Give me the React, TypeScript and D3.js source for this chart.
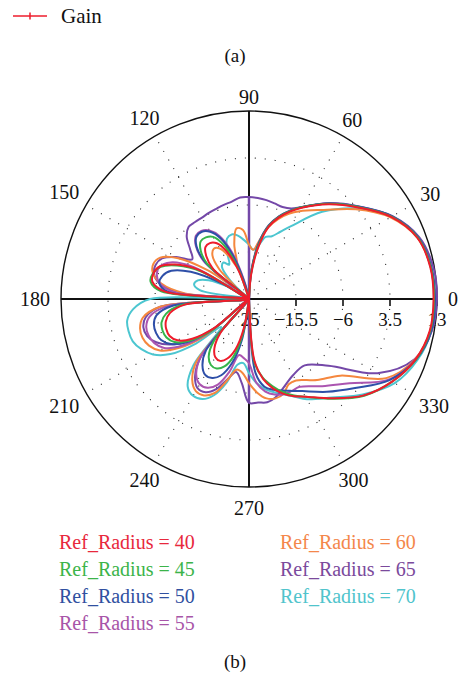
import React from "react";
import * as d3 from "d3";

// Polar angles (degrees, counter-clockwise from 0 = east)
const ANGLES = [0, 10, 20, 30, 40, 50, 60, 65, 70, 75, 80, 85, 90, 95, 100, 105, 110, 115, 120, 125, 130, 135, 140, 145, 150, 155, 160, 165, 170, 175, 180, 185, 190, 195, 200, 205, 210, 215, 220, 225, 230, 235, 240, 245, 250, 255, 260, 265, 270, 275, 280, 285, 290, 295, 300, 310, 320, 330, 340, 350];

// Gain (dB) per angle for each Ref_Radius
const GAIN_40 = [12.3, 12.2, 11.2, 8.2, 3.8, 0.0, -3.7, -5.5, -7.5, -10, -14.5, -20, -25, -25, -25, -25, -19, -14.5, -12, -11.2, -11.3, -12.8, -15.5, -25, -13, -8.5, -5.8, -5, -5.2, -8, -25, -12, -8.8, -7.6, -7.2, -7.3, -8.3, -11, -16, -25, -16, -12.8, -11.4, -11.2, -12.2, -14.5, -19, -25, -25, -12.5, -8.6, -6.3, -4.6, -3.3, -2.2, 1.2, 5.3, 8.4, 10.8, 12.1];
const GAIN_45 = [12.4, 12.3, 11.3, 8.3, 3.9, 0.1, -3.6, -5.4, -7.3, -9.8, -14, -19.5, -25, -25, -25, -25, -18, -13, -10.5, -9.8, -9.8, -11.2, -14, -25, -14, -9, -6, -4.9, -4.8, -7.2, -25, -11.5, -8, -6.7, -6.4, -6.6, -7.6, -10.3, -15, -25, -14, -10.8, -9.6, -9.5, -10.5, -13, -18, -25, -25, -12, -8.8, -6.8, -5, -3.5, -2.2, 1.3, 5.4, 8.4, 10.9, 12.2];
const GAIN_50 = [12.6, 12.4, 11.4, 8.4, 4.0, 0.2, -3.5, -5.3, -7.2, -9.6, -13.5, -19, -25, -25, -25, -22, -16, -11.5, -9.3, -8.4, -8.5, -10, -13.5, -25, -19, -12, -8.3, -6.9, -6.6, -8.6, -25, -9.5, -6, -5.1, -5, -5.4, -6.8, -9.8, -15.5, -25, -11.5, -8.6, -7.3, -7.4, -8.6, -11.5, -16.5, -25, -25, -10, -7, -6, -5.3, -4.5, -3.5, -0.5, 3.0, 7.8, 10.9, 12.4];
const GAIN_55 = [12.5, 12.4, 11.4, 8.3, 4.0, 0.2, -3.6, -5.3, -7.2, -9.6, -13.5, -19, -25, -25, -25, -21, -15, -11, -9, -8.2, -8.3, -9.8, -13, -21, -12, -7.5, -5.8, -5.7, -6.7, -10, -25, -8.5, -4.6, -3.5, -3.4, -3.9, -5.2, -8.6, -14.5, -25, -10, -6.4, -5.1, -5.2, -6.6, -9.8, -13.5, -13, -12, -8, -6, -5, -4.5, -4.5, -4.5, -2.0, 1.5, 7.6, 10.8, 12.4];
const GAIN_60 = [12.5, 12.3, 11.2, 8.0, 3.2, -1.5, -4.5, -6, -7.8, -10, -13, -15, -14, -11, -10.5, -13.5, -18, -15.5, -13.2, -12.6, -13.5, -16.5, -22, -15, -8.5, -5.2, -4.4, -4.9, -7, -12, -25, -7, -3.2, -2.2, -2.1, -2.7, -4.2, -7.8, -13.5, -25, -8.5, -5, -3.5, -3.5, -4.8, -8, -10.5, -10, -8, -6, -4.6, -4.2, -4.6, -6, -6, -3.6, -0.9, 7.0, 10.7, 12.2];
const GAIN_65 = [13, 12.8, 11.6, 8.5, 4.1, 0.3, -3.5, -4.8, -5.2, -5, -4.7, -4.5, -4.4, -4.4, -5, -5.3, -5.6, -5.8, -6, -6, -6, -7.2, -9.5, -11, -8, -5.6, -4.9, -5.1, -6.6, -11, -25, -7, -3.8, -2.9, -3.1, -4.3, -6.6, -10.2, -15.5, -25, -10, -6, -4.2, -4.2, -5.6, -8.2, -10, -8, -4, -4, -3.8, -4.4, -5.5, -6.5, -7.2, -7.5, -4.0, 5, 10.6, 12.5];
const GAIN_70 = [12.4, 12.3, 11.4, 8.4, 3.5, -2, -8, -10, -11.5, -12, -14, -15, -14, -13, -12, -11.5, -12, -14.5, -17, -16, -16.5, -19.5, -25, -25, -20, -16, -14, -13.5, -15, -25, -5, -1.5, 0, 0.2, 0, -1, -2.6, -5.6, -11, -17, -7.5, -3.4, -2.4, -2.7, -4.3, -7.5, -11.5, -12, -10, -8, -6.5, -5.5, -4.5, -3.2, -1.6, 1.0, 5.0, 9.0, 11.2, 12.4];

const SERIES_NAMES = ["Ref_Radius = 40", "Ref_Radius = 45", "Ref_Radius = 50", "Ref_Radius = 55", "Ref_Radius = 60", "Ref_Radius = 65", "Ref_Radius = 70"];
const SERIES_VALUES = [GAIN_40, GAIN_45, GAIN_50, GAIN_55, GAIN_60, GAIN_65, GAIN_70];
const SERIES_COLORS = ["#ee1c2c", "#36b44a", "#2e4fa8", "#ab55b0", "#f5873e", "#7448a8", "#4cc6d0"];
const TEXT_COLORS = ["#e8283c", "#3cb44a", "#3050a0", "#a855a8", "#f4874b", "#7b4a9c", "#50c4cc"];

const RADIAL_TICKS = [-25, -15.5, -6, 3.5, 13];
const RADIAL_TICK_LABELS = ["25", "\u221215.5", "\u22126", "3.5", "13"];
const GRID_RINGS = [-15.5, -6, 3.5];
const ANGLE_TICKS = [0, 30, 60, 90, 120, 150, 180, 210, 240, 270, 300, 330];
const DOTTED_SPOKES = [30, 60, 120, 150, 210, 240, 300, 330];

const W = 461;
const H = 677;
const CX = 249;
const CY = 299;
const R = 188;
const FONT = "'Liberation Serif', 'Times New Roman', serif";

const rScale = d3.scaleLinear().domain([-25, 13]).range([0, R]);
const toRad = (deg: number) => (deg * Math.PI) / 180;

export default function App() {
  const line = d3
    .lineRadial<number>()
    .angle((_, i) => toRad(90 - ANGLES[i]))
    .radius((v) => rScale(v))
    .curve(d3.curveCatmullRomClosed.alpha(0.5));

  const px = (a: number, v: number) => rScale(v) * Math.cos(toRad(a));
  const py = (a: number, v: number) => -rScale(v) * Math.sin(toRad(a));

  const purpleIdx = 5;
  const i90 = ANGLES.indexOf(90);
  const i270 = ANGLES.indexOf(270);

  const drawOrder = [6, 5, 4, 3, 2, 1, 0];

  return (
    <svg width={W} height={H} style={{ position: "absolute", left: 0, top: 0, background: "#fff" }} fontFamily={FONT}>
      {/* top legend */}
      <line x1={13} x2={47} y1={16} y2={16} stroke="#ee1c2c" strokeWidth={1.5} />
      <line x1={30} x2={30} y1={12.5} y2={19.5} stroke="#ee1c2c" strokeWidth={1.5} />
      <text x={61} y={23} fontSize={21} fill="#111">Gain</text>
      <text x={235} y={62} fontSize={19} fill="#111" textAnchor="middle">(a)</text>

      <g transform={`translate(${CX},${CY})`}>
        {/* dotted grid rings */}
        {GRID_RINGS.map((v) => (
          <circle key={v} r={rScale(v)} fill="none" stroke="#222" strokeWidth={1.1} strokeDasharray="1 9" />
        ))}
        {/* dotted spokes */}
        {DOTTED_SPOKES.map((a) => (
          <line key={a} x1={0} y1={0} x2={px(a, 13)} y2={py(a, 13)} stroke="#222" strokeWidth={1.1} strokeDasharray="1 9" />
        ))}
        {/* outer circle */}
        <circle r={R} fill="none" stroke="#111" strokeWidth={1.4} />
        {/* main axes */}
        <line x1={-R} x2={R} y1={0} y2={0} stroke="#111" strokeWidth={2} />
        <line x1={0} x2={0} y1={-R} y2={R} stroke="#111" strokeWidth={2} />
        {/* radial ticks */}
        {RADIAL_TICKS.map((v, i) => (
          <g key={v}>
            <line x1={rScale(v)} x2={rScale(v)} y1={0} y2={7} stroke="#111" strokeWidth={1.6} />
            <text x={rScale(v) + (i === 0 ? 1 : 0)} y={14} fontSize={19} fill="#111" textAnchor="middle" dy="0.7em">
              {RADIAL_TICK_LABELS[i]}
            </text>
          </g>
        ))}
        {/* angle labels */}
        {ANGLE_TICKS.map((a) => {
          const label = String(a);
          const w = label.length * 10;
          const c = Math.cos(toRad(a));
          const s = Math.sin(toRad(a));
          const d = R + 11 + (w / 2) * Math.abs(c) + 3 * Math.abs(s) + (a === 270 ? 7 : 0);
          return (
            <text key={a} x={d * c} y={-d * s} dy="0.35em" fontSize={20} fill="#111" textAnchor="middle">
              {label}
            </text>
          );
        })}
        {/* purple series radial strokes along vertical axis */}
        {[i90, i270].map((idx) => (
          <line
            key={idx}
            x1={0}
            y1={0}
            x2={px(ANGLES[idx], SERIES_VALUES[purpleIdx][idx])}
            y2={py(ANGLES[idx], SERIES_VALUES[purpleIdx][idx])}
            stroke={SERIES_COLORS[purpleIdx]}
            strokeWidth={2.5}
          />
        ))}
        {/* series */}
        {drawOrder.map((si) => (
          <path
            key={si}
            d={line(SERIES_VALUES[si]) || ""}
            fill="none"
            stroke={SERIES_COLORS[si]}
            strokeWidth={2}
            strokeLinejoin="round"
          />
        ))}
      </g>

      {/* series legend */}
      {SERIES_NAMES.map((name, i) => {
        const col = i < 4 ? 0 : 1;
        const row = i < 4 ? i : i - 4;
        return (
          <text key={name} x={col === 0 ? 59 : 280} y={549 + row * 27} fontSize={20} fill={TEXT_COLORS[i]}>
            {name}
          </text>
        );
      })}
      <text x={235} y={668} fontSize={19} fill="#111" textAnchor="middle">(b)</text>
    </svg>
  );
}
